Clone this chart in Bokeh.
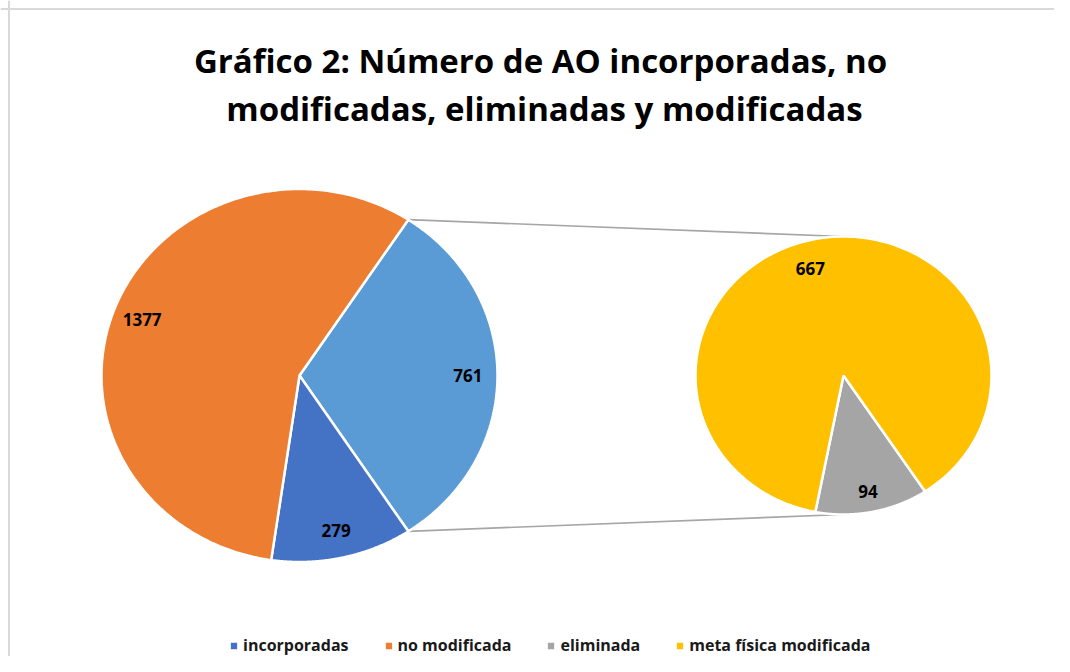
import numpy as np
from bokeh.plotting import figure
from bokeh.models import Range1d, Legend, LegendItem, Span
from bokeh.core.properties import value
from bokeh.embed import file_html
from bokeh.resources import INLINE

# ---------------- data ----------------
title_lines = ["Gráfico 2: Número de AO incorporadas, no",
               "modificadas, eliminadas y modificadas"]
main_labels = ["incorporadas", "no modificada"]
main_values = [279, 1377]
sec_labels = ["eliminada", "meta física modificada"]
sec_values = [94, 667]
main_colors = ["#4472C4", "#ED7D31"]
other_color = "#5B9BD5"
sec_colors = ["#A5A5A5", "#FFC000"]

# ---------------- layout ----------------
W, H = 1054, 656
FONT = "Open Sans"
p = figure(width=W, height=H, output_backend="svg", toolbar_location=None,
           x_range=Range1d(0, W), y_range=Range1d(H, 0),
           min_border=0, x_axis_location=None, y_axis_location=None)
p.grid.visible = False
p.outline_line_color = None
p.background_fill_color = "white"
p.border_fill_color = "white"

# chart border (top / left visible)
p.add_layout(Span(location=8.5, dimension="width", line_color="#D9D9D9", line_width=2))
p.add_layout(Span(location=8.5, dimension="height", line_color="#D9D9D9", line_width=2))

# title
p.text(x=[540], y=[60], text=[title_lines[0]], text_font=value(FONT),
       text_font_style="bold", text_font_size="33px", text_align="center",
       text_baseline="alphabetic", text_color="#000000")
p.text(x=[544], y=[108], text=[title_lines[1]], text_font=value(FONT),
       text_font_style="bold", text_font_size="33px", text_align="center",
       text_baseline="alphabetic", text_color="#000000")


def wedge(cx, cy, rx, ry, a0, a1, n=240):
    t = np.radians(np.linspace(a0, a1, n))
    xs = np.concatenate([[cx], cx + rx * np.cos(t)])
    ys = np.concatenate([[cy], cy - ry * np.sin(t)])
    return xs, ys


# pie geometry
cx1, cy1, rx1, ry1 = 299, 375, 198, 186.5
cx2, cy2, rx2, ry2 = 843, 375, 148, 139

other_value = sum(sec_values)
total_main = sum(main_values) + other_value
th_other = other_value / total_main * 360
th_main = [v / total_main * 360 for v in main_values]

# connectors
a_top = np.radians(th_other / 2)
a_bot = np.radians(-th_other / 2)
p.segment(x0=[cx1 + rx1 * np.cos(a_top), cx1 + rx1 * np.cos(a_bot)],
          y0=[cy1 - ry1 * np.sin(a_top), cy1 - ry1 * np.sin(a_bot)],
          x1=[cx2, cx2], y1=[cy2 - ry2, cy2 + ry2],
          line_color="#A6A6A6", line_width=1.6)

renderers = {}
label_pos = []
# "other" slice
xs, ys = wedge(cx1, cy1, rx1, ry1, -th_other / 2, th_other / 2)
p.patch(xs, ys, fill_color=other_color, line_color="white", line_width=2.5)
label_pos.append((0.0, other_value, cx1, cy1, rx1, ry1, 0.85))

start = -th_other / 2
for lab, v, th, col in zip(main_labels, main_values, th_main, main_colors):
    a1 = start
    a0 = start - th
    xs, ys = wedge(cx1, cy1, rx1, ry1, a0, a1)
    renderers[lab] = p.patch(xs, ys, fill_color=col, line_color="white", line_width=2.5)
    label_pos.append(((a0 + a1) / 2, v, cx1, cy1, rx1, ry1, 0.85))
    start = a0

# secondary pie
start = -56.5
for lab, v, col in zip(sec_labels, sec_values, sec_colors):
    th = v / other_value * 360
    a1 = start
    a0 = start - th
    xs, ys = wedge(cx2, cy2, rx2, ry2, a0, a1)
    renderers[lab] = p.patch(xs, ys, fill_color=col, line_color="white", line_width=2.5)
    label_pos.append(((a0 + a1) / 2 + (5 if v > 300 else 0), v, cx2, cy2, rx2, ry2,
                      0.8 if v > 300 else 0.85))
    start = a0

lx, ly, lt = [], [], []
for ang, v, cx, cy, rx, ry, f in label_pos:
    a = np.radians(ang)
    lx.append(cx + f * rx * np.cos(a))
    ly.append(cy - f * ry * np.sin(a))
    lt.append(str(v))
p.text(x=lx, y=ly, text=lt, text_font=value(FONT), text_font_style="bold",
       text_font_size="17px", text_align="center", text_baseline="middle",
       text_color="#000000")

legend = Legend(items=[LegendItem(label=l, renderers=[renderers[l]])
                       for l in main_labels + sec_labels],
                orientation="horizontal", location=(228, 0),
                glyph_width=11, glyph_height=11, label_standoff=4, spacing=34,
                padding=0, margin=0, border_line_color=None,
                background_fill_alpha=0, label_text_font=FONT,
                label_text_font_style="bold", label_text_font_size="16px",
                label_text_color="#1a1a1a")
p.add_layout(legend)

open("out.html", "w").write(file_html(p, INLINE))
